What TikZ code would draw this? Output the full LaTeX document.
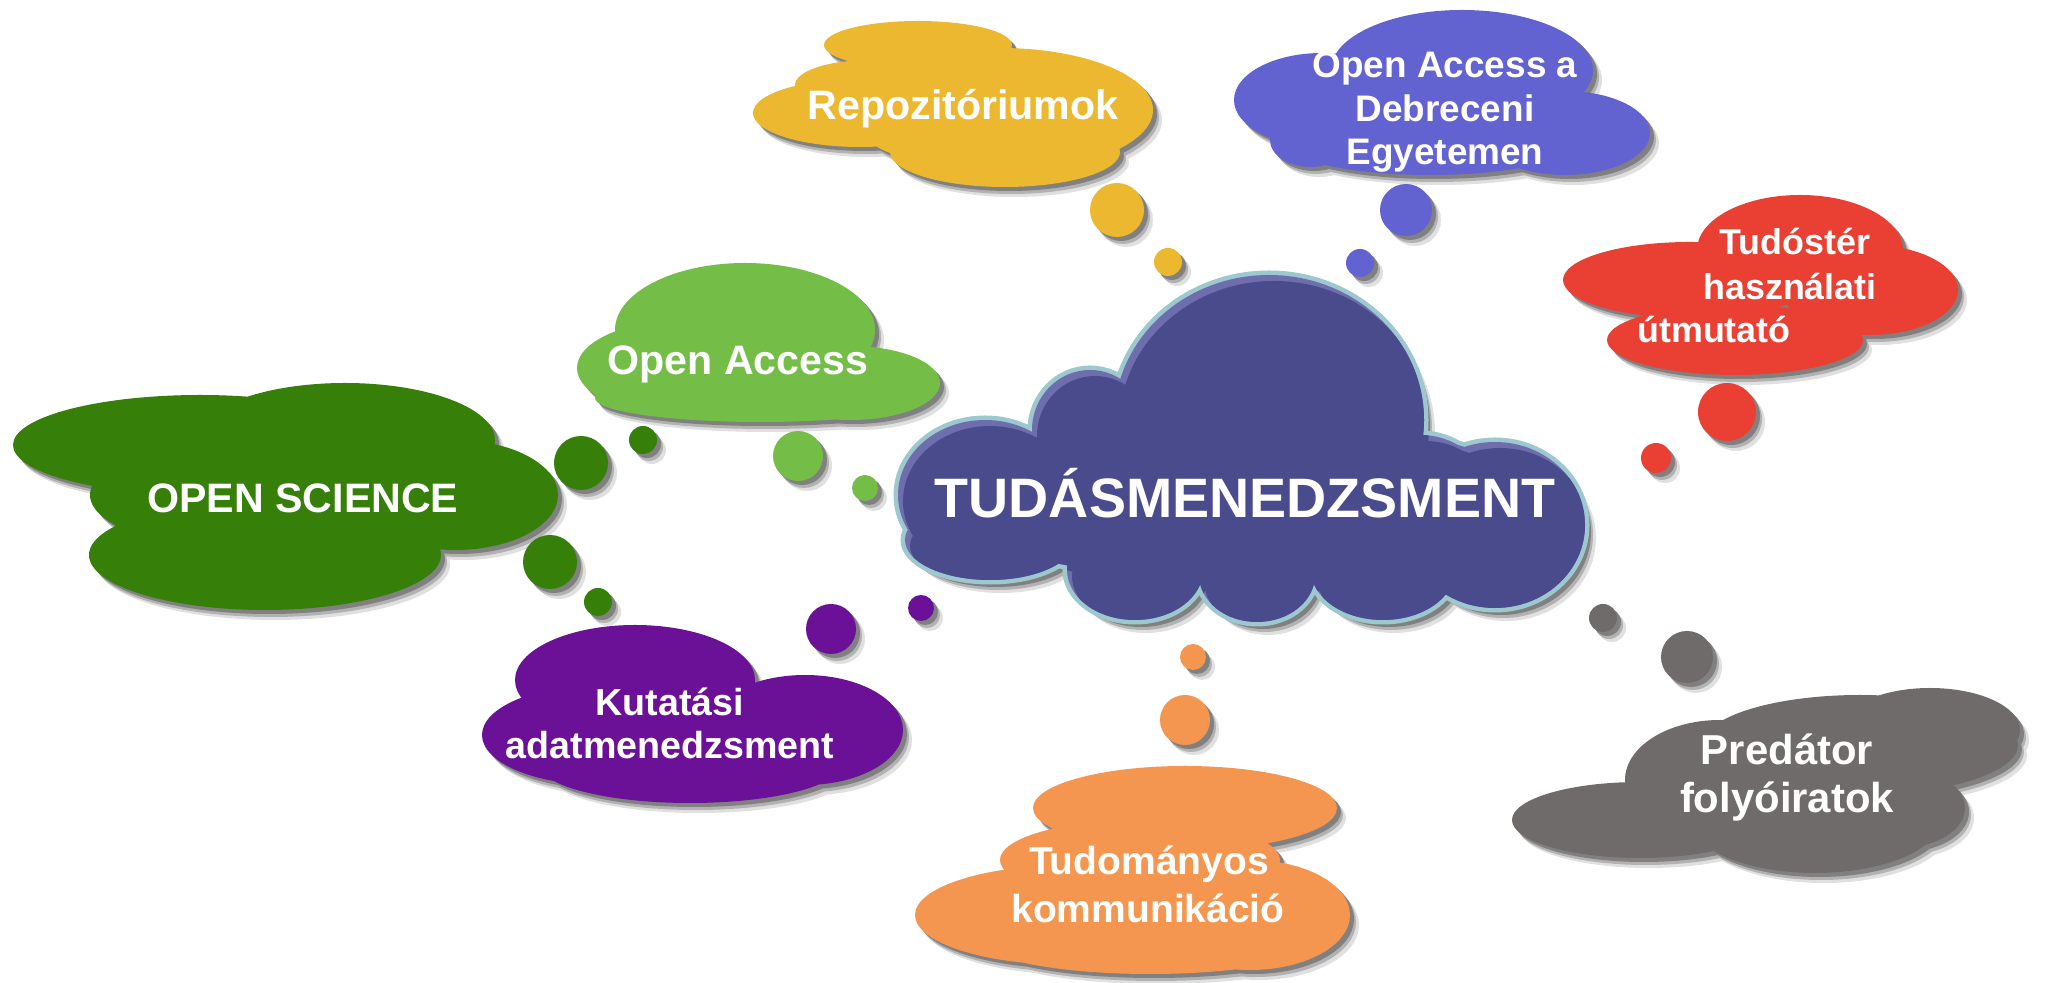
\documentclass[tikz,border=0pt]{standalone}
\usepackage{fontspec}
\setmainfont{Liberation Sans}
\definecolor{cmain}{HTML}{4A4B8D}
\definecolor{chigh}{HTML}{6E6EAE}
\definecolor{cborder}{HTML}{9CC8CE}
\definecolor{cdg}{HTML}{368009}
\definecolor{clg}{HTML}{74BE48}
\definecolor{cyel}{HTML}{EBB82F}
\definecolor{cblu}{HTML}{6262D1}
\definecolor{cred}{HTML}{E94033}
\definecolor{cgra}{HTML}{6F6B6B}
\definecolor{cora}{HTML}{F4964F}
\definecolor{cpur}{HTML}{6A1198}
\newcommand\shadowed[2]{%
  \fill[black!12,shift={(9,10)}] #2;
  \fill[black!30,shift={(6,7)}] #2;
  \fill[black!50,shift={(4,4)}] #2;
  \fill[#1] #2;}
\newcommand\bubble[4]{\shadowed{#1}{(#2,#3) circle (#4)}}
\tikzset{
  lbl/.style={text=white, anchor=base, inner sep=0pt},
  fs/.style={font=\fontsize{#1}{#1}\selectfont\bfseries}
}
\begin{document}
\begin{tikzpicture}[x=0.01cm,y=-0.01cm]
\useasboundingbox (0,0) rectangle (2048,983);
\fill[white] (0,0) rectangle (2048,983);
% shapes
\def\shpDG{(200,445) ellipse (187 and 50) (345,440) ellipse (150 and 57) (455,495) ellipse (103 and 55) (265,555) ellipse (176 and 55) (290,495) ellipse (200 and 62)}
\def\shpLG{(745,330) ellipse (130 and 67) (680,368) ellipse (103 and 47) (850,383) ellipse (90 and 37) (760,398) ellipse (165 and 24)}
\def\shpY{(918,45) ellipse (94 and 24) (870,85) ellipse (75 and 25) (860,113) ellipse (107 and 34) (1000,110) ellipse (153 and 62) (1005,152) ellipse (115 and 35)}
\def\shpB{(1462,70) ellipse (131 and 60) (1322,100) ellipse (88 and 47) (1565,133) ellipse (85 and 42) (1430,140) ellipse (150 and 35) (1310,140) ellipse (40 and 27)}
\def\shpR{(1800,250) ellipse (103 and 55) (1690,280) ellipse (127 and 38) (1870,290) ellipse (88 and 45) (1735,340) ellipse (128 and 35)}
\def\shpG{(1860,745) ellipse (158 and 50) (1720,780) ellipse (95 and 60) (1930,730) ellipse (90 and 42) (1640,820) ellipse (128 and 38) (1815,820) ellipse (125 and 53) (1900,808) ellipse (65 and 40)}
\def\shpO{(1185,808) ellipse (152 and 42) (1140,860) ellipse (140 and 40) (1070,915) ellipse (155 and 50) (1250,915) ellipse (100 and 55) (1150,940) ellipse (170 and 34)}
\def\shpP{(635,680) ellipse (120 and 55) (805,730) ellipse (98 and 55) (600,735) ellipse (118 and 50) (690,765) ellipse (150 and 38)}
\def\shpC{(1269,420) ellipse (155 and 145) (1090,430) ellipse (58 and 60) (985,495) ellipse (87 and 75) (1495,525) ellipse (90 and 83) (1420,480) ellipse (60 and 45) (1135,570) ellipse (68 and 50) (1257,575) ellipse (58 and 47) (1383,570) ellipse (72 and 50) (990,540) ellipse (85 and 40) (1240,500) ellipse (300 and 80)}
% clouds
\shadowed{cdg}{\shpDG}
\shadowed{clg}{\shpLG}
\shadowed{cyel}{\shpY}
\shadowed{cblu}{\shpB}
\shadowed{cred}{\shpR}
\shadowed{cgra}{\shpG}
\shadowed{cora}{\shpO}
\shadowed{cpur}{\shpP}
% bubbles
\bubble{cdg}{581}{463}{27}
\bubble{cdg}{643}{440}{14}
\bubble{cdg}{550}{562}{27}
\bubble{cdg}{598}{602}{14}
\bubble{clg}{798}{456}{25}
\bubble{clg}{865}{488}{13}
\bubble{cyel}{1117}{210}{27}
\bubble{cyel}{1168}{262}{14}
\bubble{cblu}{1406}{210}{26}
\bubble{cblu}{1360}{263}{14}
\bubble{cred}{1727}{412}{29}
\bubble{cred}{1656}{458}{15}
\bubble{cgra}{1603}{618}{14}
\bubble{cgra}{1687}{657}{26}
\bubble{cora}{1193}{657}{13}
\bubble{cora}{1185}{720}{25}
\bubble{cpur}{831}{629}{25}
\bubble{cpur}{921}{608}{13}
% central cloud
\fill[black!12,shift={(11,13)}] \shpC;
\fill[black!30,shift={(8,10)}] \shpC;
\fill[black!50,shift={(6,7)}] \shpC;
\draw[cborder,line width=0.09cm] \shpC;
\fill[chigh] \shpC;
\begin{scope}
  \clip \shpC;
  \fill[cmain,shift={(5,6)}] \shpC;
\end{scope}
% labels
\node[lbl,fs=15.8] (tm) at (1245,518) {TUDÁSMENEDZSMENT};
\node[lbl,fs=11.7] (os) at (303,513) {OPEN SCIENCE};
\node[lbl,fs=11.7] (oa) at (738,375) {Open Access};
\node[lbl,fs=11.7] (rep) at (963,120) {Repozitóriumok};
\node[lbl,fs=10.5] (de1) at (1445,78) {Open Access a};
\node[lbl,fs=10.5] (de2) at (1445,122) {Debreceni};
\node[lbl,fs=10.5] (de3) at (1445,165) {Egyetemen};
\node[lbl,fs=10.2] (tu1) at (1795,255) {Tudóstér};
\node[lbl,fs=10.2] (tu2) at (1790,300) {használati};
\node[lbl,fs=10.2] (tu3) at (1714,343) {útmutató};
\node[lbl,fs=11.9] (pr1) at (1787,765) {Predátor};
\node[lbl,fs=11.9] (pr2) at (1787,813) {folyóiratok};
\node[lbl,fs=11.1] (tk1) at (1149,875) {Tudományos};
\node[lbl,fs=11.1] (tk2) at (1148,923) {kommunikáció};
\node[lbl,fs=10.7] (ku1) at (670,716) {Kutatási};
\node[lbl,fs=10.7] (ku2) at (670,759) {adatmenedzsment};
\end{tikzpicture}
\end{document}
